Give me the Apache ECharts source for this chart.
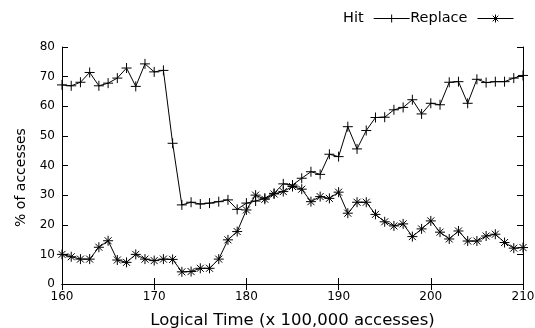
<!DOCTYPE html>
<html>
<head>
<meta charset="utf-8">
<script src="https://cdn.jsdelivr.net/npm/echarts@6/dist/echarts.min.js"></script>
<style>
  html, body { margin: 0; padding: 0; background: #fff; }
  #chart { width: 535px; height: 328px; }
</style>
</head>
<body>
<div id="chart"></div>
<script>
// x positions (logical time, x 100,000 accesses)
var times = [];
for (var t = 160; t <= 210; t++) times.push(t);

// % of accesses
var hitValues = [
  67.2, 66.9, 68.1, 71.4, 66.9, 67.8, 69.5, 72.9, 66.7, 74.3,
  71.6, 72.1, 47.5, 26.7, 27.6, 27.0, 27.3, 27.8, 28.4, 25.2,
  27.3, 28.0, 29.0, 30.6, 33.8, 33.4, 35.7, 37.9, 37.0, 43.8,
  43.0, 53.1, 45.6, 51.8, 56.2, 56.3, 58.8, 59.6, 62.2, 57.4,
  61.0, 60.5, 68.1, 68.3, 61.0, 69.1, 68.0, 68.3, 68.3, 69.5,
  70.4
];
var replaceValues = [
  10.0, 9.2, 8.4, 8.4, 12.4, 14.6, 8.1, 7.3, 10.0, 8.4,
  7.9, 8.4, 8.3, 4.1, 4.2, 5.3, 5.3, 8.4, 14.9, 17.7,
  25.0, 30.0, 28.6, 30.4, 31.2, 32.9, 32.0, 27.8, 29.5, 28.9,
  31.0, 23.9, 27.6, 27.6, 23.5, 21.0, 19.6, 20.3, 16.0, 18.6,
  21.3, 17.5, 15.2, 17.9, 14.5, 14.5, 16.2, 16.8, 14.0, 12.1,
  12.3
];

var plusSymbol = 'path://M0,5L10,5M5,0L5,10';
var starSymbol = 'path://M0,5L10,5M5,0L5,10M1.5,1.5L8.5,8.5M1.5,8.5L8.5,1.5';

function pairs(vals) {
  return times.map(function (x, i) { return [x, vals[i]]; });
}

var font = 'DejaVu Sans';
var chart = echarts.init(document.getElementById('chart'), null, { renderer: 'canvas' });

var axisLine = { show: true, lineStyle: { color: '#000', width: 1 } };
var tickIn = { show: true, inside: true, length: 6, lineStyle: { color: '#000' } };

var option = {
  animation: false,
  backgroundColor: '#fff',
  textStyle: { fontFamily: font, color: '#000' },
  grid: { left: 62, right: 12, top: 47, bottom: 44, outerBoundsMode: 'none' },
  legend: {
    right: 16,
    top: 6,
    align: 'right',
    itemWidth: 36,
    itemHeight: 10,
    itemGap: 0,
    lineStyle: { width: 1 },
    itemStyle: { borderWidth: 1 },
    textStyle: { fontFamily: font, fontSize: 14.5, color: '#000', padding: [0, 5, 0, 0] },
    data: ['Hit', 'Replace']
  },
  xAxis: [{
    type: 'value',
    min: 160, max: 210, interval: 10,
    name: 'Logical Time (x 100,000 accesses)',
    nameLocation: 'middle',
    nameGap: 28,
    nameTextStyle: { fontFamily: font, fontSize: 16.5, color: '#000' },
    axisLine: axisLine,
    axisTick: tickIn,
    axisLabel: { fontFamily: font, fontSize: 12, color: '#000', margin: 7 },
    splitLine: { show: false }
  }, {
    type: 'value', position: 'top',
    min: 160, max: 210, interval: 10,
    axisLine: axisLine,
    axisTick: tickIn,
    axisLabel: { show: false },
    splitLine: { show: false }
  }],
  yAxis: [{
    type: 'value',
    min: 0, max: 80, interval: 10,
    name: '% of accesses',
    nameLocation: 'middle',
    nameGap: 23,
    nameTextStyle: { fontFamily: font, fontSize: 14, color: '#000', padding: [0, 24, 0, 0] },
    axisLine: axisLine,
    axisTick: tickIn,
    axisLabel: { fontFamily: font, fontSize: 12, color: '#000', margin: 7 },
    splitLine: { show: false }
  }, {
    type: 'value', position: 'right',
    min: 0, max: 80, interval: 10,
    axisLine: axisLine,
    axisTick: tickIn,
    axisLabel: { show: false },
    splitLine: { show: false }
  }],
  series: [{
    name: 'Hit',
    type: 'line',
    data: pairs(hitValues),
    symbol: plusSymbol,
    symbolSize: 10,
    showAllSymbol: true,
    lineStyle: { color: '#000', width: 1 },
    itemStyle: { color: '#000', borderColor: '#000', borderWidth: 1 }
  }, {
    name: 'Replace',
    type: 'line',
    data: pairs(replaceValues),
    symbol: starSymbol,
    symbolSize: 10,
    showAllSymbol: true,
    lineStyle: { color: '#000', width: 1 },
    itemStyle: { color: '#000', borderColor: '#000', borderWidth: 1 }
  }]
};

chart.setOption(option);
</script>
</body>
</html>
